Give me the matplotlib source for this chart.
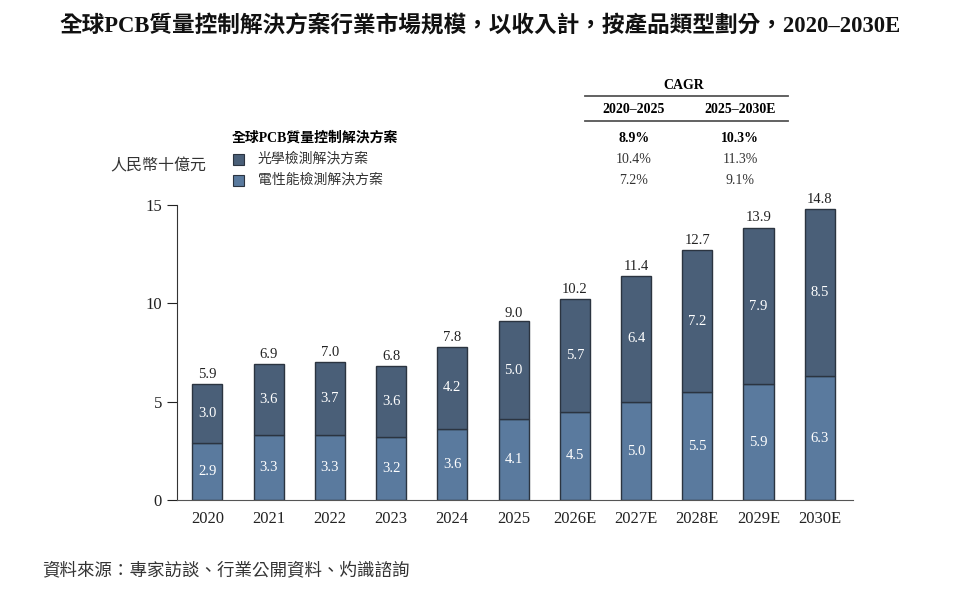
import matplotlib.pyplot as plt
from matplotlib.lines import Line2D
from matplotlib.patches import Rectangle

plt.rcParams['font.family'] = ['Liberation Serif', 'Noto Sans CJK TC']

years = ['2020', '2021', '2022', '2023', '2024', '2025',
         '2026E', '2027E', '2028E', '2029E', '2030E']
electrical = [2.9, 3.3, 3.3, 3.2, 3.6, 4.1, 4.5, 5.0, 5.5, 5.9, 6.3]
optical = [3.0, 3.6, 3.7, 3.6, 4.2, 5.0, 5.7, 6.4, 7.2, 7.9, 8.5]
totals = [5.9, 6.9, 7.0, 6.8, 7.8, 9.0, 10.2, 11.4, 12.7, 13.9, 14.8]

cagr_periods = ['2020–2025', '2025–2030E']
cagr_total = ['8.9%', '10.3%']
cagr_optical = ['10.4%', '11.3%']
cagr_electrical = ['7.2%', '9.1%']

TOP_COLOR = '#4a5f78'
BOT_COLOR = '#5a7a9e'
EDGE = '#2b3440'

fig = plt.figure(figsize=(9.6, 5.92), dpi=100)
ax = fig.add_axes([0.184, 0.155, 0.705, 0.499])

x = list(range(len(years)))
ax.bar(x, electrical, width=0.49, color=BOT_COLOR, edgecolor=EDGE, linewidth=1.0)
ax.bar(x, optical, width=0.49, bottom=electrical, color=TOP_COLOR, edgecolor=EDGE, linewidth=1.0)

for i in x:
    ax.text(i, electrical[i] / 2, f'{electrical[i]:.1f}', ha='center', va='center',
            color='white', fontsize=10.5)
    ax.text(i, electrical[i] + optical[i] / 2, f'{optical[i]:.1f}', ha='center', va='center',
            color='white', fontsize=10.5)
    ax.text(i, totals[i] + 0.15, f'{totals[i]:.1f}', ha='center', va='bottom',
            color='#222222', fontsize=10.5, clip_on=False)

ax.set_xlim(-0.5, 10.55)
ax.set_ylim(0, 15)
ax.set_yticks([0, 5, 10, 15])
ax.set_xticks(x)
ax.set_xticklabels(years)
ax.tick_params(axis='y', direction='out', length=7, labelsize=12, colors='#222222')
ax.tick_params(axis='x', length=0, labelsize=12, pad=8, colors='#222222')
for s in ['top', 'right']:
    ax.spines[s].set_visible(False)
ax.spines['left'].set_color('#333333')
ax.spines['bottom'].set_color('#555555')

fig.text(0.5, 1 - 27 / 592, '全球PCB質量控制解決方案行業市場規模，以收入計，按產品類型劃分，2020–2030E',
         ha='center', va='center', fontsize=16.3, fontweight='bold', color='#111111')

# CAGR table
c1, c2 = 634 / 960, 740 / 960
fig.text(684 / 960, 1 - 85 / 592, 'CAGR', ha='center', va='center', fontsize=10, fontweight='bold')
fig.add_artist(Line2D([585 / 960, 788 / 960], [1 - 96 / 592] * 2, color='#555555', linewidth=1.3))
fig.text(c1, 1 - 110 / 592, cagr_periods[0], ha='center', va='center', fontsize=10, fontweight='bold')
fig.text(c2, 1 - 110 / 592, cagr_periods[1], ha='center', va='center', fontsize=10, fontweight='bold')
fig.add_artist(Line2D([585 / 960, 788 / 960], [1 - 121 / 592] * 2, color='#555555', linewidth=1.3))

y1, y2, y3 = 1 - 138 / 592, 1 - 159 / 592, 1 - 180 / 592
fig.text(232 / 960, y1, '全球PCB質量控制解決方案', ha='left', va='center', fontsize=10, fontweight='bold')
fig.text(c1, y1, cagr_total[0], ha='center', va='center', fontsize=10, fontweight='bold')
fig.text(c2, y1, cagr_total[1], ha='center', va='center', fontsize=10, fontweight='bold')

fig.add_artist(Rectangle((233 / 960, y2 - 5.5 / 592), 11 / 960, 11 / 592, facecolor=TOP_COLOR,
                         edgecolor=EDGE, linewidth=0.8, transform=fig.transFigure))
fig.text(258 / 960, y2, '光學檢測解決方案', ha='left', va='center', fontsize=10, color='#333333')
fig.text(c1, y2, cagr_optical[0], ha='center', va='center', fontsize=10, color='#333333')
fig.text(c2, y2, cagr_optical[1], ha='center', va='center', fontsize=10, color='#333333')

fig.add_artist(Rectangle((233 / 960, y3 - 5.5 / 592), 11 / 960, 11 / 592, facecolor=BOT_COLOR,
                         edgecolor=EDGE, linewidth=0.8, transform=fig.transFigure))
fig.text(258 / 960, y3, '電性能檢測解決方案', ha='left', va='center', fontsize=10, color='#333333')
fig.text(c1, y3, cagr_electrical[0], ha='center', va='center', fontsize=10, color='#333333')
fig.text(c2, y3, cagr_electrical[1], ha='center', va='center', fontsize=10, color='#333333')

fig.text(110 / 960, 1 - 166 / 592, '人民幣十億元', ha='left', va='center', fontsize=11.5,
         style='italic', color='#333333')

fig.text(42 / 960, 1 - 571 / 592, '資料來源：專家訪談、行業公開資料、灼識諮詢', ha='left', va='center',
         fontsize=12.6, style='italic', color='#333333')

fig.savefig('out.png', dpi=100)
